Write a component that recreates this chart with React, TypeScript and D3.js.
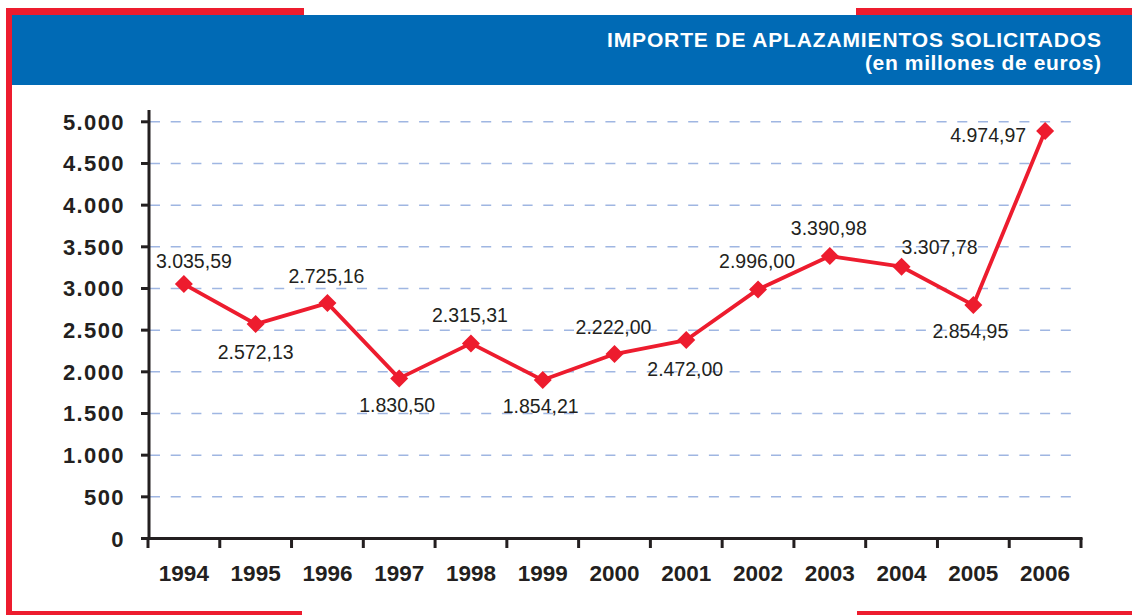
import React from "react";
import * as d3 from "d3";

const years = ["1994","1995","1996","1997","1998","1999","2000","2001","2002","2003","2004","2005","2006"];
// plotted values
const values = [3053, 2573, 2825, 1921, 2341, 1901, 2213, 2381, 2989, 3389, 3261, 2801, 4889];
// printed data labels
const valueLabels = ["3.035,59","2.572,13","2.725,16","1.830,50","2.315,31","1.854,21","2.222,00","2.472,00","2.996,00","3.390,98","3.307,78","2.854,95","4.974,97"];
const yTicks = [0, 500, 1000, 1500, 2000, 2500, 3000, 3500, 4000, 4500, 5000];
const yTickLabels = ["0","500","1.000","1.500","2.000","2.500","3.000","3.500","4.000","4.500","5.000"];
const titleLine1 = "IMPORTE DE APLAZAMIENTOS SOLICITADOS";
const titleLine2 = "(en millones de euros)";

// label placement relative to marker (layout, not data)
const labelOffsets: [number, number, string][] = [
  [10, -16, "middle"], [0, 35, "middle"], [-1, -20, "middle"], [-2, 34, "middle"],
  [-1, -21, "middle"], [-2, 33, "middle"], [-1, -20, "middle"], [-1, 36, "middle"],
  [-1, -21, "middle"], [-1, -21, "middle"], [38, -13, "middle"], [-3, 33, "middle"],
  [-19, 11, "end"],
];

const RED = "#ed1c2e";
const BLUE = "#006ab5";
const INK = "#231f20";

export default function App() {
  const x = d3.scaleBand<string>().domain(years).range([148, 1081]).padding(0);
  const y = d3.scaleLinear().domain([0, 5000]).range([538.5, 121.8]);
  const cx = (yr: string) => (x(yr) as number) + x.bandwidth() / 2;
  const line = d3.line<number>().x((_, i) => cx(years[i])).y((v) => y(v));
  const r = 9;
  const diamond = `M0,${-r}L${r},0L0,${r}L${-r},0Z`;
  const boundaries = years.map((yr) => x(yr) as number).concat([1081]);

  return (
    <svg width={1132} height={615} style={{ position: "absolute", left: 0, top: 0 }}
      fontFamily="'Liberation Sans', Arial, Helvetica, sans-serif">
      <rect x={0} y={0} width={1132} height={615} fill="#fff" />
      {/* frame */}
      <rect x={12} y={15} width={1120} height={70} fill={BLUE} />
      <rect x={6} y={8} width={298} height={7} fill={RED} />
      <rect x={6} y={8} width={6} height={607} fill={RED} />
      <rect x={6} y={611} width={296} height={6} fill={RED} />
      <rect x={856} y={8} width={276} height={7} fill={RED} />
      <rect x={857} y={611} width={275} height={6} fill={RED} />
      {/* title */}
      <text x={607} y={46.5} fill="#fff" fontWeight="bold" fontSize={21}
        textLength={494} lengthAdjust="spacing">{titleLine1}</text>
      <text x={865} y={69.5} fill="#fff" fontWeight="bold" fontSize={21}
        textLength={236} lengthAdjust="spacing">{titleLine2}</text>
      {/* grid */}
      {yTicks.filter((t) => t > 0).map((t) => (
        <line key={t} x1={150} x2={1077} y1={y(t)} y2={y(t)} stroke="#9fb6e2"
          strokeWidth={1.5} strokeDasharray="10,10.7" />
      ))}
      {/* y axis */}
      <line x1={149} x2={149} y1={110} y2={540} stroke={INK} strokeWidth={3} />
      {yTicks.map((t, i) => (
        <g key={t}>
          <line x1={141} x2={149} y1={y(t)} y2={y(t)} stroke={INK} strokeWidth={3} />
          <text x={125} y={y(t) + 8} textAnchor="end" fontWeight="bold" fontSize={22}
            letterSpacing={1.4} fill={INK}>{yTickLabels[i]}</text>
        </g>
      ))}
      {/* x axis */}
      <line x1={146.5} x2={1082.5} y1={538.5} y2={538.5} stroke={INK} strokeWidth={3} />
      {boundaries.map((b, i) => (
        <line key={i} x1={b} x2={b} y1={538} y2={548} stroke={INK} strokeWidth={3} />
      ))}
      {years.map((yr) => (
        <text key={yr} x={cx(yr)} y={580.5} textAnchor="middle" fontWeight="bold"
          fontSize={22.5} fill={INK}>{yr}</text>
      ))}
      {/* series */}
      <path d={line(values) || ""} fill="none" stroke={RED} strokeWidth={3.8} strokeLinejoin="round" />
      {values.map((v, i) => (
        <path key={i} d={diamond} transform={`translate(${cx(years[i])},${y(v)})`} fill={RED} />
      ))}
      {values.map((v, i) => {
        const [dx, dy, anchor] = labelOffsets[i];
        return (
          <text key={i} x={cx(years[i]) + dx} y={y(v) + dy} textAnchor={anchor as any}
            fontSize={19.5} fill={INK}>{valueLabels[i]}</text>
        );
      })}
    </svg>
  );
}
